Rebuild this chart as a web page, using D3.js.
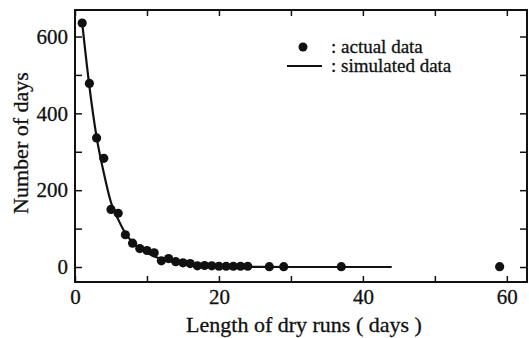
<!DOCTYPE html>
<html>
<head>
<meta charset="utf-8">
<script src="https://cdn.jsdelivr.net/npm/d3@7"></script>
<style>
  body { margin: 0; background: #fff; }
  svg text { font-family: "Liberation Serif", "Times New Roman", "DejaVu Serif", serif; fill: #111; stroke: #111; stroke-width: 0.3px; }
  .eje text { font-size: 21px; }
</style>
</head>
<body>
<div id="graf"></div>
<script>
// datos
largo_actual = [1, 2, 3, 4, 5, 6, 7, 8, 9, 10, 11, 12, 13, 14, 15, 16, 17, 18, 19, 20, 21, 22, 23, 24, 27, 29, 37, 59]
dias_actual  = [635, 478, 336, 283, 150, 140, 84, 62, 48, 43, 37, 16, 22, 14, 11, 9, 3, 4, 3, 2, 2, 2, 2, 2, 1, 1, 1, 1]

largo_sim = [1, 2, 3, 4, 5, 6, 7, 8, 9, 10, 11, 12, 13, 14, 15, 16, 17, 18, 19, 20, 22, 25, 30, 44]
dias_sim  = [635, 470, 338, 245, 168, 124, 88, 64, 48, 37, 28, 21, 16, 12, 9, 7, 5, 4, 3, 2, 1, 0.5, 0, 0]

x_ticks = [0, 10, 20, 30, 40, 50, 60]
y_ticks = [0, 100, 200, 300, 400, 500, 600]

ancho_total = 529
alto_total = 338
margins = { top: 10, left: 75, right: 2, bottom: 56 }
ancho = ancho_total - margins.left - margins.right
alto  = alto_total - margins.top - margins.bottom

svg = d3.select('#graf').append('svg')
        .attr('width', ancho_total)
        .attr('height', alto_total)
        .style('display', 'block')

g = svg.append('g')
       .attr('transform', `translate(${ margins.left }, ${ margins.top })`)

x = d3.scaleLinear().domain([0, 62.8]).range([0, ancho])
y = d3.scaleLinear().domain([-39, 669]).range([alto, 0])

// ejes con marcas hacia dentro
g.append('g').attr('class', 'eje')
  .attr('transform', `translate(0, ${ alto })`)
  .call(d3.axisBottom(x).tickValues(x_ticks).tickSize(-6).tickPadding(7)
          .tickFormat(d => d % 20 == 0 ? d : ''))
g.append('g').attr('class', 'eje')
  .call(d3.axisTop(x).tickValues(x_ticks).tickSize(-6).tickFormat(''))
g.append('g').attr('class', 'eje')
  .call(d3.axisLeft(y).tickValues(y_ticks).tickSize(-7).tickPadding(7)
          .tickFormat(d => d % 200 == 0 ? d : ''))
g.append('g').attr('class', 'eje')
  .attr('transform', `translate(${ ancho }, 0)`)
  .call(d3.axisRight(y).tickValues(y_ticks).tickSize(-7).tickFormat(''))

g.selectAll('.eje').attr('font-family', null).attr('font-size', null)
g.selectAll('.eje .domain').remove()
g.selectAll('.eje line').attr('stroke', '#111').attr('stroke-width', 1.5)

g.append('rect')
  .attr('width', ancho).attr('height', alto)
  .attr('fill', 'none').attr('stroke', '#111').attr('stroke-width', 2)

// curva simulada
linea = d3.line()
          .x((d, i) => x(largo_sim[i]))
          .y(d => y(d))
          .curve(d3.curveMonotoneX)

g.append('path')
  .attr('d', linea(dias_sim))
  .attr('fill', 'none')
  .attr('stroke', '#111')
  .attr('stroke-width', 2.2)

// puntos reales
g.selectAll('circle.punto')
  .data(dias_actual)
  .enter()
  .append('circle')
    .attr('class', 'punto')
    .attr('cx', (d, i) => x(largo_actual[i]))
    .attr('cy', d => y(d))
    .attr('r', 4.6)
    .attr('fill', '#111')

// leyenda
ley = g.append('g').attr('transform', 'translate(212, 0)')
ley.append('circle').attr('cx', 16).attr('cy', 37).attr('r', 4.5).attr('fill', '#111')
ley.append('text').attr('x', 44).attr('y', 43).style('font-size', '19px').text(': actual data')
ley.append('line').attr('x1', 0).attr('x2', 35).attr('y1', 56).attr('y2', 56)
   .attr('stroke', '#111').attr('stroke-width', 2.2)
ley.append('text').attr('x', 44).attr('y', 62).style('font-size', '19px').text(': simulated data')

// titulos de ejes
g.append('text')
  .attr('x', 229).attr('y', alto + 50)
  .attr('text-anchor', 'middle')
  .style('font-size', '22px')
  .text('Length of dry runs ( days )')

g.append('text')
  .attr('transform', `translate(${ -47 }, ${ 133 }) rotate(-90)`)
  .attr('text-anchor', 'middle')
  .style('font-size', '22px')
  .text('Number of days')
</script>
</body>
</html>
